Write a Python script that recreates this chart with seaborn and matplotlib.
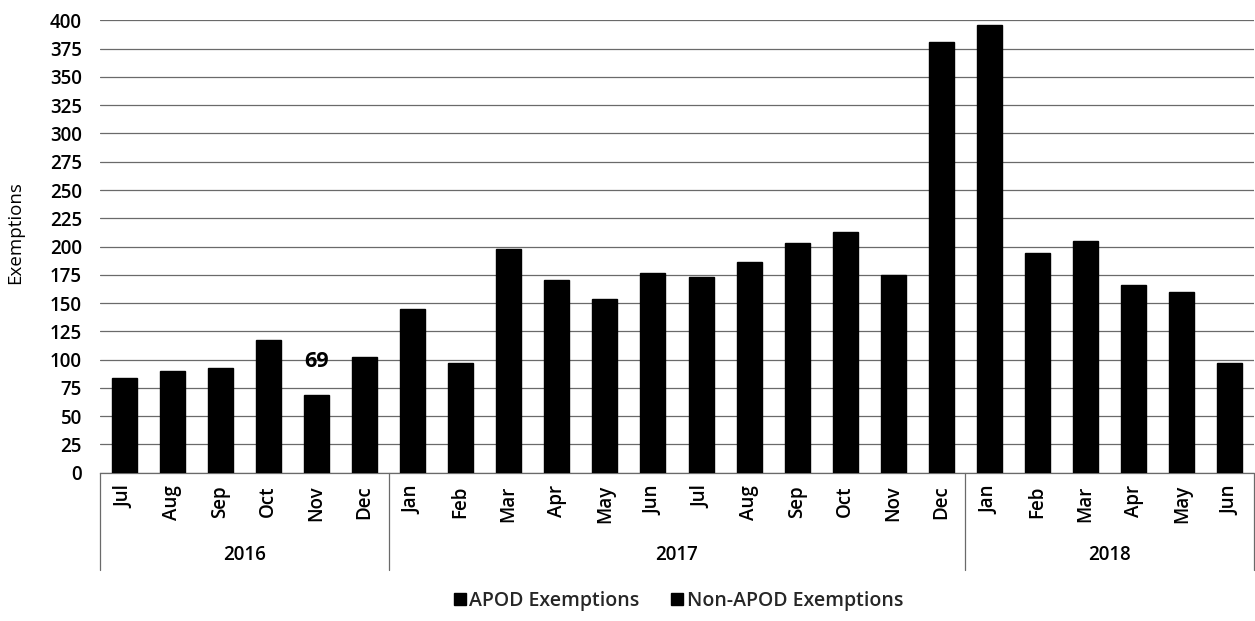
import matplotlib
matplotlib.use("Agg")
import matplotlib.pyplot as plt
from matplotlib.lines import Line2D
import matplotlib.transforms as mtransforms
import pandas as pd
import seaborn as sns

# Monthly exemptions, July 2016 - June 2018
years = ["2016", "2017", "2018"]
months_per_year = [6, 12, 6]
months = ["Jul", "Aug", "Sep", "Oct", "Nov", "Dec",
          "Jan", "Feb", "Mar", "Apr", "May", "Jun",
          "Jul", "Aug", "Sep", "Oct", "Nov", "Dec",
          "Jan", "Feb", "Mar", "Apr", "May", "Jun"]
exemptions = [84, 90, 93, 117, 69, 102,
              145, 97, 198, 170, 154, 177, 173, 186, 203, 213, 175, 381,
              396, 194, 205, 166, 160, 97]
series_names = ["APOD Exemptions", "Non-APOD Exemptions"]
yticks = list(range(0, 401, 25))

sns.set_theme(style="white")
plt.rcParams["font.family"] = ["Open Sans", "DejaVu Sans"]
plt.rcParams["font.weight"] = "semibold"
FS = 13.5

labels = [f"{m}\n{i}" for i, m in enumerate(months)]
df = pd.DataFrame({"slot": labels, "value": exemptions})

fig = plt.figure(figsize=(12.55, 6.21), dpi=100)
ax = fig.add_axes([100 / 1255, 1 - 472.7 / 621, 1154 / 1255, (472.7 - 20.4) / 621])

sns.barplot(data=df, x="slot", y="value", color="black", width=0.52,
            saturation=1, ax=ax, zorder=3)
for p in ax.patches:
    p.set_edgecolor("black")

ax.set_ylim(0, 400)
ax.set_xlim(-0.5, len(months) - 0.5)
ax.set_yticks(yticks)
ax.set_yticklabels([str(v) for v in yticks], fontsize=FS, color="black")
ax.set_xticks(range(len(months)))
ax.set_xticklabels(months, rotation=90, fontsize=FS, color="black", va="top")
ax.tick_params(axis="y", length=0, pad=13)
ax.tick_params(axis="x", length=0, pad=9)

ax.yaxis.grid(True, color="#6a6a6a", linewidth=0.9, zorder=0)
ax.xaxis.grid(False)
for side in ["top", "right", "left"]:
    ax.spines[side].set_visible(False)
ax.spines["bottom"].set_color("#6a6a6a")
ax.spines["bottom"].set_linewidth(0.9)

ax.set_xlabel("")
ax.set_ylabel("Exemptions", fontsize=FS, color="black")
ax.yaxis.set_label_coords(-0.066, 0.53)

# Year group labels and separators below the month labels
trans = mtransforms.blended_transform_factory(ax.transData, ax.transAxes)
y_sep = (472.7 - 570) / 452.3
y_year = (472.7 - 555) / 452.3
start = 0
bounds = [-0.5]
for yr, n in zip(years, months_per_year):
    center = start + (n - 1) / 2
    ax.text(center, y_year, yr, transform=trans, ha="center", va="center",
            fontsize=FS, color="black")
    start += n
    bounds.append(start - 0.5)
for b in bounds:
    ax.plot([b, b], [0, y_sep], transform=trans, color="#6a6a6a",
            linewidth=0.9, clip_on=False)

# Value labels on the lowest and highest months
for idx in (exemptions.index(min(exemptions)), exemptions.index(max(exemptions))):
    ax.annotate(str(exemptions[idx]), xy=(idx, exemptions[idx]),
                xytext=(0, 24), textcoords="offset points",
                ha="center", va="center", fontsize=15.5, fontweight="bold",
                color="black", annotation_clip=False)

handles = [Line2D([0], [0], marker="s", linestyle="none", markersize=9,
                  markerfacecolor="black", markeredgecolor="black")
           for _ in series_names]
fig.legend(handles, series_names, loc="center",
           bbox_to_anchor=(677.5 / 1255, 1 - 601 / 621), ncol=2,
           frameon=False, fontsize=14, handletextpad=0.1, columnspacing=1.5,
           handlelength=0.8)

fig.savefig("out.png", dpi=100)
